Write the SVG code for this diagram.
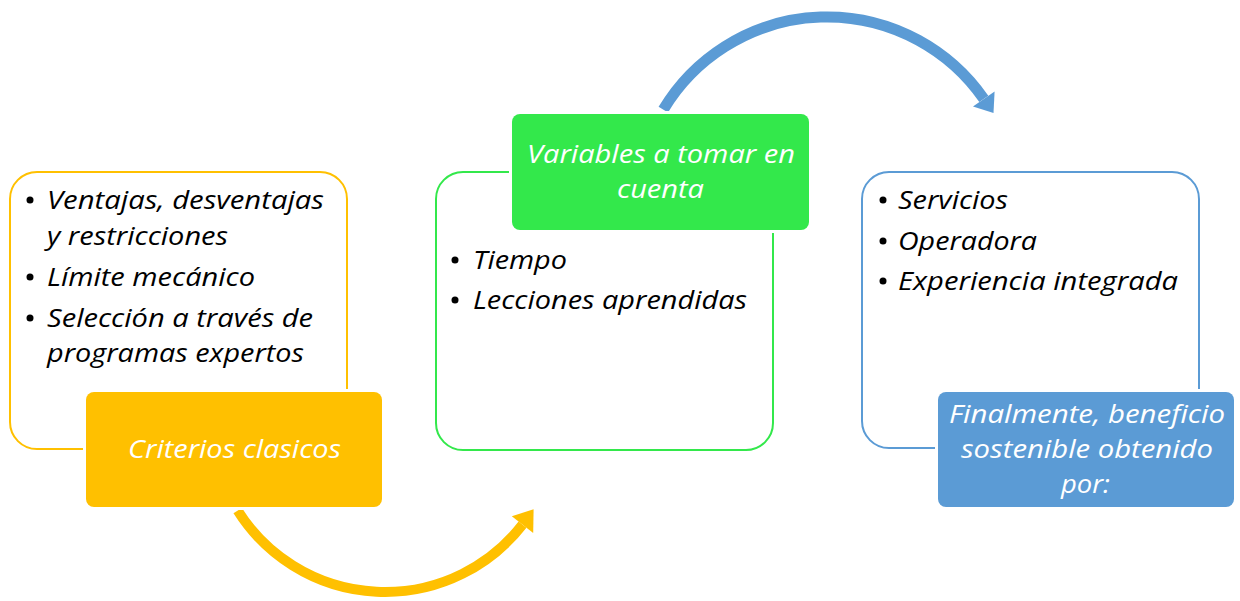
<svg xmlns="http://www.w3.org/2000/svg" width="1240" height="601" viewBox="0 0 1240 601">
<style>
.txt{font-family:"Open Sans","Noto Sans","DejaVu Sans",sans-serif;font-style:italic;font-size:26px;fill:#000}
.wt{font-family:"Open Sans","Noto Sans","DejaVu Sans",sans-serif;font-style:italic;font-size:26px;fill:#fff}
.outline{fill:#fff;stroke-width:2}
.head{stroke:#fff;stroke-width:6;paint-order:stroke fill}
.bul{fill:#000}
</style>
<rect width="1240" height="601" fill="#fff"/>
<g id="connectors">
  <path d="M237.7 510.6 A174 174 0 0 0 522.5 524.6" fill="none" stroke="#FFC000" stroke-width="10"/>
  <polygon points="533.6,509.2 533.2,532.9 511.8,516.3" fill="#FFC000"/>
  <path d="M663.3 109.6 A191 191 0 0 1 983.8 98.9" fill="none" stroke="#5B9BD5" stroke-width="11"/>
  <polygon points="994.6,91.4 973,106.4 993.5,112.9" fill="#5B9BD5"/>
</g>
<g id="node-criterios">
  <rect class="outline" x="10" y="172" width="337" height="277" rx="27" stroke="#FFC000"/>
  <circle class="bul" cx="30" cy="200" r="3.5"/>
  <circle class="bul" cx="30" cy="277" r="3.5"/>
  <circle class="bul" cx="30" cy="318" r="3.5"/>
  <text class="txt" x="47" y="209" textLength="277" lengthAdjust="spacingAndGlyphs">Ventajas, desventajas</text>
  <text class="txt" x="47" y="245" textLength="181" lengthAdjust="spacingAndGlyphs">y restricciones</text>
  <text class="txt" x="47" y="286" textLength="208" lengthAdjust="spacingAndGlyphs">Límite mecánico</text>
  <text class="txt" x="47" y="327" textLength="266" lengthAdjust="spacingAndGlyphs">Selección a través de</text>
  <text class="txt" x="47" y="362" textLength="257" lengthAdjust="spacingAndGlyphs">programas expertos</text>
  <rect class="head" x="86" y="392" width="296" height="115" rx="8" fill="#FFC000"/>
  <text class="wt" x="128" y="458" textLength="213" lengthAdjust="spacingAndGlyphs">Criterios clasicos</text>
</g>
<g id="node-variables">
  <rect class="outline" x="436" y="172" width="337" height="278" rx="27" stroke="#33E84B"/>
  <circle class="bul" cx="455" cy="260" r="3.5"/>
  <circle class="bul" cx="455" cy="300" r="3.5"/>
  <text class="txt" x="473" y="269" textLength="94" lengthAdjust="spacingAndGlyphs">Tiempo</text>
  <text class="txt" x="473" y="309" textLength="274" lengthAdjust="spacingAndGlyphs">Lecciones aprendidas</text>
  <rect class="head" x="512" y="114" width="297" height="116" rx="8" fill="#33E84B"/>
  <text class="wt" x="527" y="163" textLength="268" lengthAdjust="spacingAndGlyphs">Variables a tomar en</text>
  <text class="wt" x="617" y="198" textLength="87" lengthAdjust="spacingAndGlyphs">cuenta</text>
</g>
<g id="node-beneficio">
  <rect class="outline" x="862" y="172" width="337" height="276" rx="27" stroke="#5B9BD5"/>
  <circle class="bul" cx="883" cy="200" r="3.5"/>
  <circle class="bul" cx="883" cy="241" r="3.5"/>
  <circle class="bul" cx="883" cy="281" r="3.5"/>
  <text class="txt" x="898" y="209" textLength="110" lengthAdjust="spacingAndGlyphs">Servicios</text>
  <text class="txt" x="898" y="250" textLength="139" lengthAdjust="spacingAndGlyphs">Operadora</text>
  <text class="txt" x="898" y="290" textLength="280" lengthAdjust="spacingAndGlyphs">Experiencia integrada</text>
  <rect class="head" x="938" y="392" width="296" height="115" rx="8" fill="#5B9BD5"/>
  <text class="wt" x="949" y="423" textLength="276" lengthAdjust="spacingAndGlyphs">Finalmente, beneficio</text>
  <text class="wt" x="961" y="458" textLength="252" lengthAdjust="spacingAndGlyphs">sostenible obtenido</text>
  <text class="wt" x="1061" y="493" textLength="49" lengthAdjust="spacingAndGlyphs">por:</text>
</g>
</svg>
